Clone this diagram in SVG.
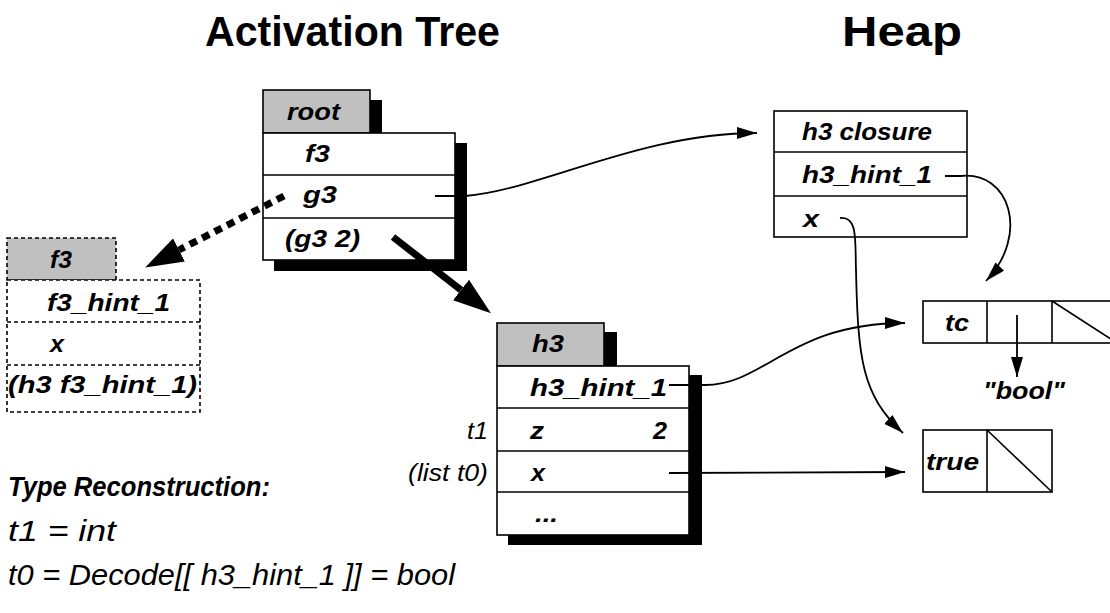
<svg xmlns="http://www.w3.org/2000/svg" width="1110" height="613" viewBox="0 0 1110 613">
<style>
.box{fill:#fff;stroke:#000;stroke-width:1.6}
.tab{fill:#c0c0c0;stroke:#000;stroke-width:1.6}
.dbox{fill:#fff;stroke:#000;stroke-width:1.6;stroke-dasharray:4 3}
.dtab{fill:#c0c0c0;stroke:#000;stroke-width:1.6;stroke-dasharray:4 3}
.ln{stroke:#000;stroke-width:1.6;fill:none}
.dl{stroke:#000;stroke-width:1.6;fill:none;stroke-dasharray:4 3}
.sh{fill:#000}
.t{font-family:"Liberation Sans",Arial,sans-serif;font-weight:bold;font-style:italic;font-size:24px;fill:#000}
.r{font-family:"Liberation Sans",Arial,sans-serif;font-style:italic;font-size:23px;fill:#000}
.title{font-family:"Liberation Sans",Arial,sans-serif;font-weight:bold;font-size:42px;fill:#000}
.tr{font-family:"Liberation Sans",Arial,sans-serif;font-weight:bold;font-style:italic;font-size:28px;fill:#000}
.tl{font-family:"Liberation Sans",Arial,sans-serif;font-style:italic;font-size:30px;fill:#000}
.c{stroke:#000;stroke-width:1.8;fill:none}
</style>
<defs>
<marker id="ah" markerUnits="userSpaceOnUse" markerWidth="20" markerHeight="12" refX="20" refY="6" orient="auto">
<path d="M0,0 L20,6 L0,12 z" fill="#000"/>
</marker>
<marker id="big" markerUnits="userSpaceOnUse" markerWidth="38" markerHeight="26" refX="0" refY="13" orient="auto">
<path d="M0,0 L38,13 L0,26 z" fill="#000"/>
</marker>
</defs>

<text class="title" x="205" y="46" textLength="295" lengthAdjust="spacingAndGlyphs">Activation Tree</text>
<text class="title" x="842" y="46" textLength="120" lengthAdjust="spacingAndGlyphs">Heap</text>

<g id="root">
<rect class="sh" x="275" y="100" width="107" height="43"/>
<rect class="sh" x="274" y="143" width="193" height="128"/>
<rect class="tab" x="263" y="90" width="107" height="43"/>
<rect class="box" x="263" y="133" width="192" height="127"/>
<line class="ln" x1="263" y1="175" x2="455" y2="175"/>
<line class="ln" x1="263" y1="218" x2="455" y2="218"/>
<text class="t" x="287" y="120" textLength="53" lengthAdjust="spacingAndGlyphs">root</text>
<text class="t" x="305" y="162" textLength="25" lengthAdjust="spacingAndGlyphs">f3</text>
<text class="t" x="303" y="203" textLength="34" lengthAdjust="spacingAndGlyphs">g3</text>
<text class="t" x="285" y="247" textLength="75" lengthAdjust="spacingAndGlyphs">(g3 2)</text>
</g>

<g id="f3">
<rect class="dtab" x="7" y="238" width="109" height="42"/>
<rect class="dbox" x="7" y="280" width="193" height="132"/>
<line class="dl" x1="7" y1="322" x2="200" y2="322"/>
<line class="dl" x1="7" y1="365" x2="200" y2="365"/>
<text class="t" x="50" y="268" textLength="22" lengthAdjust="spacingAndGlyphs">f3</text>
<text class="t" x="47" y="311" textLength="123" lengthAdjust="spacingAndGlyphs">f3_hint_1</text>
<text class="t" x="50" y="352" textLength="14" lengthAdjust="spacingAndGlyphs">x</text>
<text class="t" x="8" y="393" textLength="189" lengthAdjust="spacingAndGlyphs">(h3 f3_hint_1)</text>
</g>

<g id="h3">
<rect class="sh" x="509" y="332" width="108" height="44"/>
<rect class="sh" x="508" y="375" width="194" height="170"/>
<rect class="tab" x="497" y="323" width="107" height="43"/>
<rect class="box" x="497" y="366" width="192" height="169"/>
<line class="ln" x1="497" y1="408" x2="689" y2="408"/>
<line class="ln" x1="497" y1="451" x2="689" y2="451"/>
<line class="ln" x1="497" y1="492" x2="689" y2="492"/>
<text class="t" x="532" y="352" textLength="32" lengthAdjust="spacingAndGlyphs">h3</text>
<text class="t" x="530" y="396" textLength="137" lengthAdjust="spacingAndGlyphs">h3_hint_1</text>
<text class="t" x="530" y="439" textLength="14" lengthAdjust="spacingAndGlyphs">z</text>
<text class="t" x="653" y="439" textLength="14" lengthAdjust="spacingAndGlyphs">2</text>
<text class="t" x="531" y="481" textLength="14" lengthAdjust="spacingAndGlyphs">x</text>
<text class="t" x="535" y="522" textLength="23" lengthAdjust="spacingAndGlyphs">...</text>
<text class="r" x="488" y="439" text-anchor="end" textLength="21" lengthAdjust="spacingAndGlyphs">t1</text>
<text class="r" x="488" y="481" text-anchor="end" textLength="80" lengthAdjust="spacingAndGlyphs">(list t0)</text>
</g>

<g id="closure">
<rect class="box" x="774" y="111" width="193" height="126"/>
<line class="ln" x1="774" y1="152" x2="967" y2="152"/>
<line class="ln" x1="774" y1="196" x2="967" y2="196"/>
<text class="t" x="802" y="140" textLength="130" lengthAdjust="spacingAndGlyphs">h3 closure</text>
<text class="t" x="802" y="183" textLength="130" lengthAdjust="spacingAndGlyphs">h3_hint_1</text>
<text class="t" x="803" y="227" textLength="16" lengthAdjust="spacingAndGlyphs">x</text>
</g>

<g id="tc">
<rect class="box" x="923" y="301" width="194" height="42"/>
<line class="ln" x1="987" y1="301" x2="987" y2="343"/>
<line class="ln" x1="1052" y1="301" x2="1052" y2="343"/>
<line class="ln" x1="1052" y1="301" x2="1117" y2="343"/>
<text class="t" x="945" y="331" textLength="24" lengthAdjust="spacingAndGlyphs">tc</text>
<text class="t" x="983" y="399" textLength="82" lengthAdjust="spacingAndGlyphs">"bool"</text>
</g>

<g id="true">
<rect class="box" x="923" y="430" width="129" height="62"/>
<line class="ln" x1="987" y1="430" x2="987" y2="492"/>
<line class="ln" x1="987" y1="430" x2="1052" y2="492"/>
<text class="t" x="926" y="470" textLength="53" lengthAdjust="spacingAndGlyphs">true</text>
</g>

<g id="typerec">
<text class="tr" x="8" y="496" textLength="262" lengthAdjust="spacingAndGlyphs">Type Reconstruction:</text>
<text class="tl" x="8" y="541" textLength="108" lengthAdjust="spacingAndGlyphs">t1 = int</text>
<text class="tl" x="8" y="585" textLength="447" lengthAdjust="spacingAndGlyphs">t0 = Decode[[ h3_hint_1 ]] = bool</text>
</g>

<g id="connectors">
<path class="c" d="M435,196 L465,196 C540,190 640,133 757,133" marker-end="url(#ah)"/>
<path class="c" d="M945,176 L960,176 C1010,170 1030,235 986,281" marker-end="url(#ah)"/>
<path class="c" d="M840,218 C858,216 855,240 856,270 C858,360 862,395 903,433" marker-end="url(#ah)"/>
<path class="c" d="M669,385 L705,385 C765,385 790,323 905,323" marker-end="url(#ah)"/>
<path class="c" d="M669,473 L905,472" marker-end="url(#ah)"/>
<path class="c" d="M1017,315 L1017,377" marker-end="url(#ah)"/>
<line x1="284" y1="196" x2="179" y2="250" stroke="#000" stroke-width="7" stroke-dasharray="8 6" marker-end="url(#big)"/>
<line x1="393" y1="237" x2="461" y2="290" stroke="#000" stroke-width="7" marker-end="url(#big)"/>
</g>
</svg>
